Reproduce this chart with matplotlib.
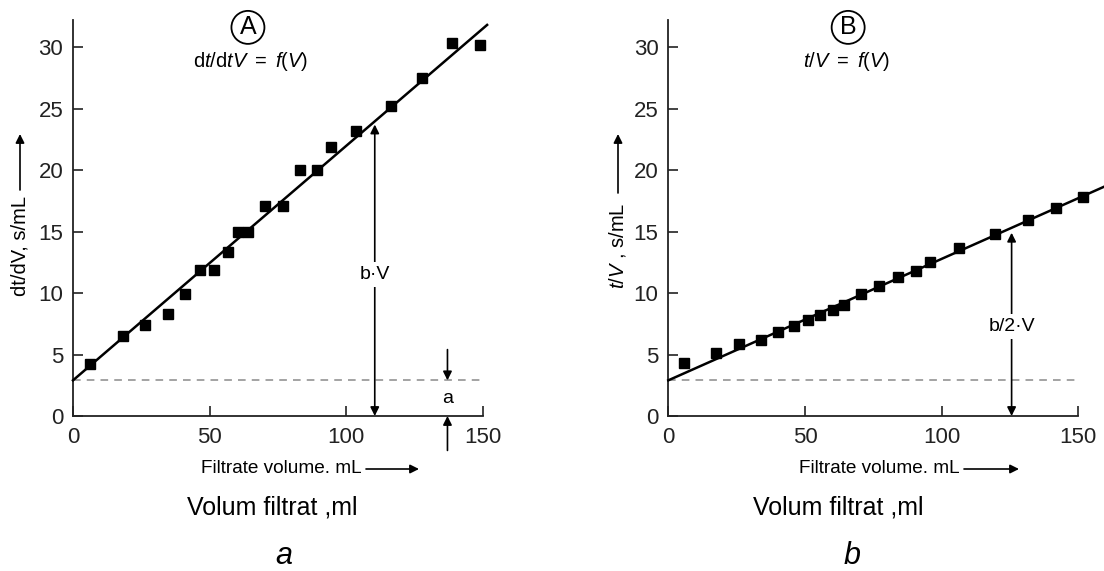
import matplotlib
matplotlib.use("Agg")
import matplotlib.pyplot as plt

# ---------------- data ----------------
vol_a = [6.3, 18.3, 26.5, 34.7, 40.8, 46.3, 51.7, 56.6, 60.3, 64.2,
         70.3, 77.0, 83.0, 89.1, 94.4, 103.7, 116.2, 127.8, 138.7, 148.8]
dtdv_a = [4.2, 6.5, 7.4, 8.3, 9.9, 11.9, 11.9, 13.3, 15.0, 15.0,
          17.1, 17.1, 20.0, 20.0, 21.9, 23.2, 25.2, 27.5, 30.3, 30.2]
fit_a_x = [0, 151.5]
fit_a_y = [2.9, 31.8]

vol_b = [5.7, 17.4, 26.0, 33.9, 40.0, 46.1, 51.0, 55.5, 60.4, 64.4,
         70.5, 77.2, 84.1, 90.6, 95.7, 106.5, 119.5, 131.5, 141.7, 151.8]
tv_b = [4.3, 5.1, 5.85, 6.2, 6.8, 7.3, 7.8, 8.2, 8.6, 9.0,
        9.9, 10.6, 11.3, 11.8, 12.5, 13.65, 14.8, 15.9, 16.9, 17.8]
fit_b_x = [0, 160]
fit_b_y = [2.9, 18.7]

intercept = 2.9
xticks = [0, 50, 100, 150]
yticks = [0, 5, 10, 15, 20, 25, 30]

W, H = 1104, 571
plt.rcParams['font.family'] = ['Liberation Sans', 'DejaVu Sans']
plt.rcParams['mathtext.fontset'] = 'custom'
plt.rcParams['mathtext.rm'] = 'Liberation Sans'
plt.rcParams['mathtext.it'] = 'Liberation Sans:italic'
plt.rcParams['mathtext.bf'] = 'Liberation Sans:bold'

fig = plt.figure(figsize=(W / 100, H / 100), dpi=100)
fig.patch.set_facecolor('white')

SC = '#222222'


def fp(x, y):
    return (x / W, 1 - y / H)


def make_axes(left_px):
    ax = fig.add_axes([left_px / W, (H - 416) / H, 410 / W, (416 - 20) / H])
    ax.set_xlim(0, 150)
    ax.set_ylim(0, 32.2)
    for s in ['top', 'right']:
        ax.spines[s].set_visible(False)
    for s in ['left', 'bottom']:
        ax.spines[s].set_linewidth(1.3)
        ax.spines[s].set_color(SC)
    ax.set_xticks(xticks)
    ax.set_yticks(yticks)
    ax.tick_params(axis='both', direction='in', length=7, width=1.2, color=SC,
                   labelsize=16, labelcolor='#222222')
    ax.tick_params(axis='x', pad=8)
    ax.tick_params(axis='y', pad=7)
    return ax


arrow_kw = dict(arrowstyle='-|>', lw=1.2, color='k', mutation_scale=13,
                shrinkA=0, shrinkB=0)
darrow_kw = dict(arrowstyle='<|-|>', lw=1.2, color='k', mutation_scale=13,
                 shrinkA=0, shrinkB=0)

# ---------------- panel A ----------------
axA = make_axes(73)
axA.plot([0, 150], [intercept, intercept], ls=(0, (5, 4)), color='#8a8a8a', lw=1.1)
axA.plot(fit_a_x, fit_a_y, color='k', lw=1.8, clip_on=False, zorder=3)
axA.plot(vol_a, dtdv_a, 's', color='k', ms=7.5, clip_on=False, zorder=4)
axA.annotate('', xy=(110.4, 23.7), xytext=(110.4, 0), arrowprops=darrow_kw)
axA.text(110.4, 11.5, 'b·V', ha='center', va='center', fontsize=14, zorder=5,
         bbox=dict(facecolor='white', edgecolor='none', pad=3))
axA.annotate('', xy=(137, intercept), xytext=(137, 5.4), arrowprops=arrow_kw)
axA.annotate('', xy=(137, 0), xytext=(137, -2.8), arrowprops=arrow_kw,
             annotation_clip=False)
axA.text(137, 1.45, 'a', ha='center', va='center', fontsize=14)
axA.text(64, 31.6, 'A', ha='center', va='center', fontsize=18, clip_on=False,
         bbox=dict(boxstyle='circle,pad=0.18', facecolor='white', edgecolor='k', lw=1.3))
axA.text(65.1, 28.8, r'$\mathrm{d}t/\mathrm{d}tV\ =\ f(V)$', ha='center', va='center',
         fontsize=14.5)

# ---------------- panel B ----------------
axB = make_axes(668.3)
axB.plot([0, 150], [intercept, intercept], ls=(0, (5, 4)), color='#8a8a8a', lw=1.1)
axB.plot(fit_b_x, fit_b_y, color='k', lw=1.8, clip_on=False, zorder=3)
axB.plot(vol_b, tv_b, 's', color='k', ms=7.5, clip_on=False, zorder=4)
axB.annotate('', xy=(125.6, 14.9), xytext=(125.6, 0), arrowprops=darrow_kw)
axB.text(125.6, 7.3, 'b/2·V', ha='center', va='center', fontsize=14, zorder=5,
         bbox=dict(facecolor='white', edgecolor='none', pad=3))
axB.text(65.8, 31.6, 'B', ha='center', va='center', fontsize=18, clip_on=False,
         bbox=dict(boxstyle='circle,pad=0.18', facecolor='white', edgecolor='k', lw=1.3))
axB.text(65.4, 28.8, r'$t/V\ =\ f(V)$', ha='center', va='center', fontsize=14.5)

# ---------------- axis labels ----------------
fig.text(*fp(20, 246), 'dt/dV, s/mL', rotation=90, ha='center', va='center',
         fontsize=14.5)
fig.add_artist(matplotlib.patches.FancyArrowPatch(fp(20, 190), fp(20, 134),
               transform=fig.transFigure, **arrow_kw))
fig.text(*fp(617, 246), r'$t/V$ , s/mL', rotation=90, ha='center', va='center',
         fontsize=14.5)
fig.add_artist(matplotlib.patches.FancyArrowPatch(fp(618, 193), fp(618, 134),
               transform=fig.transFigure, **arrow_kw))

fig.text(*fp(281, 473), 'Filtrate volume. mL', ha='center', va='baseline', fontsize=13.7)
fig.add_artist(matplotlib.patches.FancyArrowPatch(fp(366, 469), fp(419, 469),
               transform=fig.transFigure, **arrow_kw))
fig.text(*fp(879, 473), 'Filtrate volume. mL', ha='center', va='baseline', fontsize=13.7)
fig.add_artist(matplotlib.patches.FancyArrowPatch(fp(964, 469), fp(1019, 469),
               transform=fig.transFigure, **arrow_kw))

fig.text(*fp(272, 515), 'Volum filtrat ,ml', ha='center', va='baseline', fontsize=18)
fig.text(*fp(838, 515), 'Volum filtrat ,ml', ha='center', va='baseline', fontsize=18)
fig.text(*fp(284, 564), 'a', ha='center', va='baseline', fontsize=22, style='italic')
fig.text(*fp(852, 564), 'b', ha='center', va='baseline', fontsize=22, style='italic')

fig.savefig('out.png', dpi=100, facecolor='white')
